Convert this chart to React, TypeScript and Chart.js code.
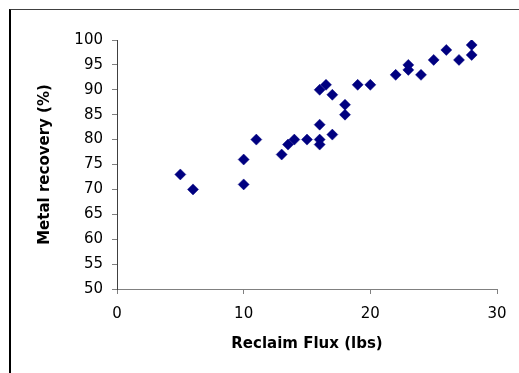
import React, { useEffect, useRef } from "react";
import { Chart, registerables } from "chart.js";

Chart.register(...registerables);

// Reclaim flux charged (lbs) and the matching metal recovery (%)
const fluxLbs = [5, 6, 10, 10, 11, 13, 13.5, 14, 15, 16, 16, 16, 16, 16.5, 17, 17, 18, 18, 19, 20, 22, 23, 23, 24, 25, 26, 27, 28, 28];
const recoveryPct = [73, 70, 76, 71, 80, 77, 79, 80, 80, 80, 79, 83, 90, 91, 89, 81, 87, 85, 91, 91, 93, 95, 94, 93, 96, 98, 96, 99, 97];

const xTitle = "Reclaim Flux (lbs)";
const yTitle = "Metal recovery (%)";

const W = 519;
const H = 373;

export default function App() {
  const canvasRef = useRef<HTMLCanvasElement | null>(null);

  useEffect(() => {
    const canvas = canvasRef.current;
    if (!canvas) return;

    const points = fluxLbs.map((x, i) => ({ x, y: recoveryPct[i] }));
    const tickFont = { family: "'DejaVu Sans', sans-serif", size: 15 };
    const titleFont = { family: "'DejaVu Sans', sans-serif", size: 15, weight: "bold" as const };

    const chart = new Chart(canvas, {
      type: "scatter",
      data: {
        datasets: [
          {
            data: points,
            pointStyle: "rectRot",
            pointRadius: 5.5,
            pointBackgroundColor: "#000080",
            pointBorderColor: "#000080",
            pointBorderWidth: 0.5,
          },
        ],
      },
      options: {
        animation: false,
        responsive: false,
        maintainAspectRatio: false,
        devicePixelRatio: 1,
        layout: { padding: { top: 40, right: 22, left: 0, bottom: 0 } },
        plugins: {
          legend: { display: false },
          tooltip: { enabled: false },
        },
        scales: {
          x: {
            type: "linear",
            min: 0,
            max: 30,
            afterFit: (scale: any) => {
              scale.height = 84;
            },
            border: { display: true, color: "#808080", width: 1 },
            grid: {
              display: true,
              drawOnChartArea: false,
              drawTicks: true,
              tickLength: 5,
              color: "#808080",
            },
            ticks: {
              stepSize: 10,
              color: "#000",
              font: tickFont,
              padding: 11,
              maxRotation: 0,
            },
            title: {
              display: true,
              text: xTitle,
              color: "#000",
              font: titleFont,
              padding: { top: 0, bottom: 20 },
            },
          },
          y: {
            type: "linear",
            min: 50,
            max: 100,
            afterFit: (scale: any) => {
              scale.width = 117;
            },
            border: { display: true, color: "#404040", width: 1 },
            grid: {
              display: true,
              drawOnChartArea: false,
              drawTicks: true,
              tickLength: 5,
              color: "#808080",
            },
            ticks: {
              stepSize: 5,
              color: "#000",
              font: tickFont,
              padding: 9,
            },
            title: {
              display: true,
              text: yTitle,
              color: "#000",
              font: titleFont,
              padding: { top: 36, bottom: 0 },
            },
          },
        },
      },
    });

    return () => chart.destroy();
  }, []);

  return (
    <div style={{ position: "absolute", left: 0, top: 0, width: W, height: H, background: "#fff", overflow: "hidden" }}>
      <div
        style={{
          position: "absolute",
          left: 9,
          top: 9,
          width: W - 9,
          height: H - 9,
          boxSizing: "border-box",
          borderLeft: "2px solid #000",
          borderTop: "1px solid #404040",
        }}
      />
      <canvas ref={canvasRef} width={W} height={H} style={{ position: "absolute", left: 0, top: 0, width: W, height: H }} />
    </div>
  );
}
